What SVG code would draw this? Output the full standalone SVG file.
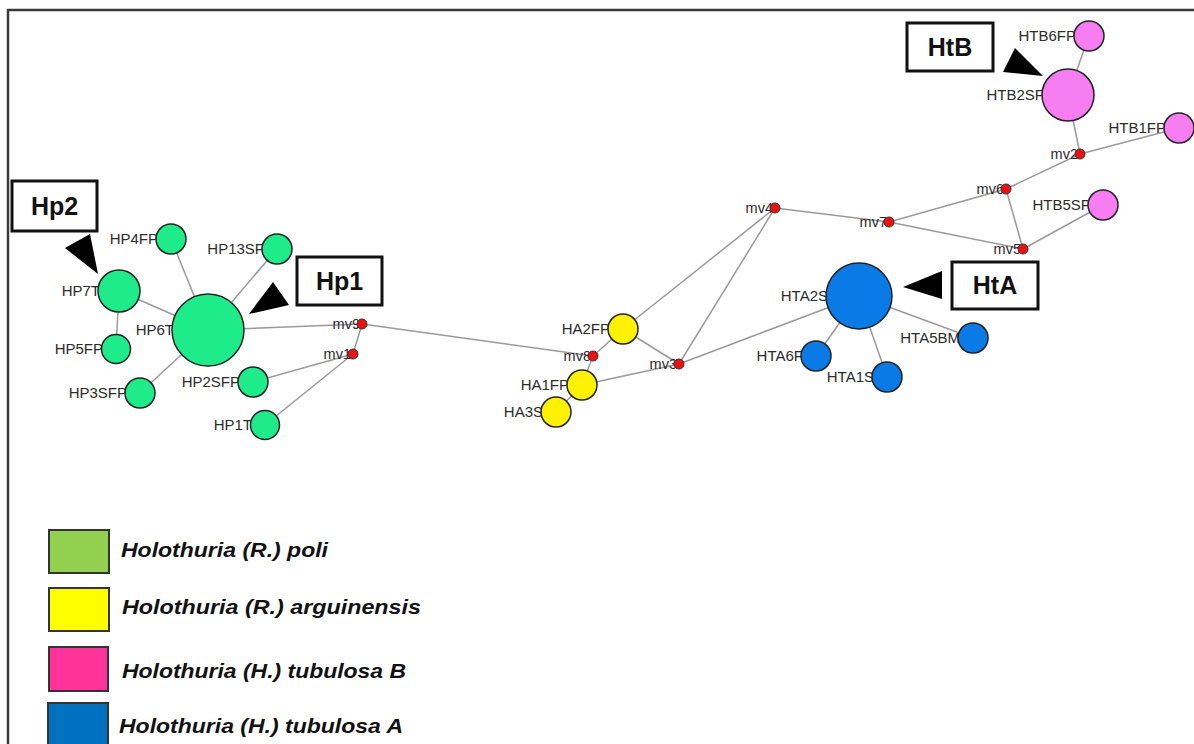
<svg xmlns="http://www.w3.org/2000/svg" width="1194" height="744" viewBox="0 0 1194 744">
<style>
.e{stroke:#9a9a9a;stroke-width:1.5;fill:none}
.n{stroke:#222;stroke-width:1.5}
.g{fill:#1EEB8A}
.y{fill:#FFF200}
.b{fill:#0A7BE6}
.p{fill:#F77EF2}
.r{fill:#EE1111;stroke:#333;stroke-width:1}
.l{font-family:"Liberation Sans",Arial,sans-serif;font-size:15px;fill:#2b2b2b;text-anchor:end}
.m{font-family:"Liberation Sans",Arial,sans-serif;font-size:14.5px;fill:#2b2b2b;text-anchor:end}
.bx{fill:#fff;stroke:#111;stroke-width:3}
.bt{font-family:"Liberation Sans",Arial,sans-serif;font-size:25px;font-weight:bold;fill:#111;text-anchor:middle}
.tri{fill:#000}
.lg{font-family:"Liberation Sans",Arial,sans-serif;font-size:20px;font-weight:bold;font-style:italic;fill:#111}
.sw{stroke:#333;stroke-width:2}
</style>
<rect width="1194" height="744" fill="#fff"/>
<path d="M8,744 V10 H1194" fill="none" stroke="#3a3a3a" stroke-width="2.5"/>
<g id="connectors">
<line class="e" x1="208" y1="330" x2="119" y2="291"/>
<line class="e" x1="208" y1="330" x2="171" y2="239"/>
<line class="e" x1="208" y1="330" x2="277" y2="249"/>
<line class="e" x1="208" y1="330" x2="140" y2="393"/>
<line class="e" x1="208" y1="330" x2="362" y2="324"/>
<line class="e" x1="119" y1="291" x2="116" y2="349"/>
<line class="e" x1="362" y1="324" x2="353" y2="354"/>
<line class="e" x1="353" y1="354" x2="253" y2="382"/>
<line class="e" x1="353" y1="354" x2="265" y2="425"/>
<line class="e" x1="362" y1="324" x2="593" y2="356"/>
<line class="e" x1="593" y1="356" x2="623" y2="329"/>
<line class="e" x1="593" y1="356" x2="582" y2="385"/>
<line class="e" x1="582" y1="385" x2="556" y2="412"/>
<line class="e" x1="623" y1="329" x2="775" y2="208"/>
<line class="e" x1="623" y1="329" x2="679" y2="364"/>
<line class="e" x1="582" y1="385" x2="679" y2="364"/>
<line class="e" x1="679" y1="364" x2="775" y2="208"/>
<line class="e" x1="679" y1="364" x2="859" y2="296"/>
<line class="e" x1="775" y1="208" x2="889" y2="222"/>
<line class="e" x1="889" y1="222" x2="1006" y2="189"/>
<line class="e" x1="889" y1="222" x2="1023" y2="249"/>
<line class="e" x1="1006" y1="189" x2="1023" y2="249"/>
<line class="e" x1="1006" y1="189" x2="1080" y2="154"/>
<line class="e" x1="1080" y1="154" x2="1068" y2="95"/>
<line class="e" x1="1080" y1="154" x2="1179" y2="128"/>
<line class="e" x1="1023" y1="249" x2="1103" y2="205"/>
<line class="e" x1="1068" y1="95" x2="1089" y2="36"/>
<line class="e" x1="859" y1="296" x2="816" y2="356"/>
<line class="e" x1="859" y1="296" x2="887" y2="377"/>
<line class="e" x1="859" y1="296" x2="973" y2="338"/>
</g>
<g id="HP6T"><text class="l" x="174" y="335">HP6T</text><circle class="n g" cx="208" cy="330" r="36"/></g>
<g id="HP7T"><text class="l" x="100" y="296">HP7T</text><circle class="n g" cx="119" cy="291" r="21"/></g>
<g id="HP4FP"><text class="l" x="158" y="244">HP4FP</text><circle class="n g" cx="171" cy="239" r="15"/></g>
<g id="HP13SF"><text class="l" x="264" y="254">HP13SF</text><circle class="n g" cx="277" cy="249" r="15"/></g>
<g id="HP5FP"><text class="l" x="103" y="354">HP5FP</text><circle class="n g" cx="116" cy="349" r="14.5"/></g>
<g id="HP3SFP"><text class="l" x="127" y="398">HP3SFP</text><circle class="n g" cx="140" cy="393" r="15"/></g>
<g id="HP2SFP"><text class="l" x="240" y="387">HP2SFP</text><circle class="n g" cx="253" cy="382" r="15"/></g>
<g id="HP1T"><text class="l" x="252" y="430">HP1T</text><circle class="n g" cx="265" cy="425" r="14.5"/></g>
<g id="mv9"><text class="m" x="360" y="329">mv9</text><circle class="r" cx="362" cy="324" r="5"/></g>
<g id="mv1"><text class="m" x="351" y="359">mv1</text><circle class="r" cx="353" cy="354" r="5"/></g>
<g id="HA2FP"><text class="l" x="610" y="334">HA2FP</text><circle class="n y" cx="623" cy="329" r="15"/></g>
<g id="HA1FP"><text class="l" x="569" y="390">HA1FP</text><circle class="n y" cx="582" cy="385" r="15"/></g>
<g id="HA3S"><text class="l" x="543" y="417">HA3S</text><circle class="n y" cx="556" cy="412" r="15"/></g>
<g id="mv8"><text class="m" x="591" y="361">mv8</text><circle class="r" cx="593" cy="356" r="5"/></g>
<g id="mv3"><text class="m" x="677" y="369">mv3</text><circle class="r" cx="679" cy="364" r="5"/></g>
<g id="mv4"><text class="m" x="773" y="213">mv4</text><circle class="r" cx="775" cy="208" r="5"/></g>
<g id="mv7"><text class="m" x="887" y="227">mv7</text><circle class="r" cx="889" cy="222" r="5"/></g>
<g id="mv6"><text class="m" x="1004" y="194">mv6</text><circle class="r" cx="1006" cy="189" r="5"/></g>
<g id="mv5"><text class="m" x="1021" y="254">mv5</text><circle class="r" cx="1023" cy="249" r="5"/></g>
<g id="mv2"><text class="m" x="1078" y="159">mv2</text><circle class="r" cx="1080" cy="154" r="5"/></g>
<g id="HTA2S"><text class="l" x="828" y="301">HTA2S</text><circle class="n b" cx="859" cy="296" r="33"/></g>
<g id="HTA6F"><text class="l" x="803" y="361">HTA6F</text><circle class="n b" cx="816" cy="356" r="15"/></g>
<g id="HTA1S"><text class="l" x="874" y="382">HTA1S</text><circle class="n b" cx="887" cy="377" r="15"/></g>
<g id="HTA5BM"><text class="l" x="960" y="343">HTA5BM</text><circle class="n b" cx="973" cy="338" r="15"/></g>
<g id="HTB2SF"><text class="l" x="1044" y="100">HTB2SF</text><circle class="n p" cx="1068" cy="95" r="26"/></g>
<g id="HTB6FP"><text class="l" x="1076" y="41">HTB6FP</text><circle class="n p" cx="1089" cy="36" r="15"/></g>
<g id="HTB1FP"><text class="l" x="1166" y="133">HTB1FP</text><circle class="n p" cx="1179" cy="128" r="15"/></g>
<g id="HTB5SF"><text class="l" x="1090" y="210">HTB5SF</text><circle class="n p" cx="1103" cy="205" r="15"/></g>
<g id="Hp2"><rect class="bx" x="12" y="181" width="85" height="50"/><text class="bt" x="54.5" y="215">Hp2</text><polygon class="tri" points="65,248 90,234 98,274"/></g>
<g id="Hp1"><rect class="bx" x="297" y="257" width="85" height="48"/><text class="bt" x="339.5" y="290">Hp1</text><polygon class="tri" points="249,314 273,282 289,305"/></g>
<g id="HtA"><rect class="bx" x="952" y="262" width="86" height="47"/><text class="bt" x="995" y="294">HtA</text><polygon class="tri" points="903,287 942,271 942,299"/></g>
<g id="HtB"><rect class="bx" x="907" y="23" width="86" height="48"/><text class="bt" x="950" y="56">HtB</text><polygon class="tri" points="1003,72 1015,48 1043,76"/></g>
<g id="legend">
<rect class="sw" x="49" y="530" width="60" height="43" fill="#92D050"/>
<text class="lg" x="121" y="557" textLength="207" lengthAdjust="spacingAndGlyphs">Holothuria (R.) poli</text>
<rect class="sw" x="49" y="588" width="60" height="43" fill="#FFFF00"/>
<text class="lg" x="122" y="614" textLength="299" lengthAdjust="spacingAndGlyphs">Holothuria (R.) arguinensis</text>
<rect class="sw" x="49" y="647" width="59" height="44" fill="#FF3399"/>
<text class="lg" x="122" y="678" textLength="284" lengthAdjust="spacingAndGlyphs">Holothuria (H.) tubulosa B</text>
<rect class="sw" x="48" y="703" width="60" height="50" fill="#0070C0"/>
<text class="lg" x="119" y="733" textLength="284" lengthAdjust="spacingAndGlyphs">Holothuria (H.) tubulosa A</text>
</g>
</svg>
